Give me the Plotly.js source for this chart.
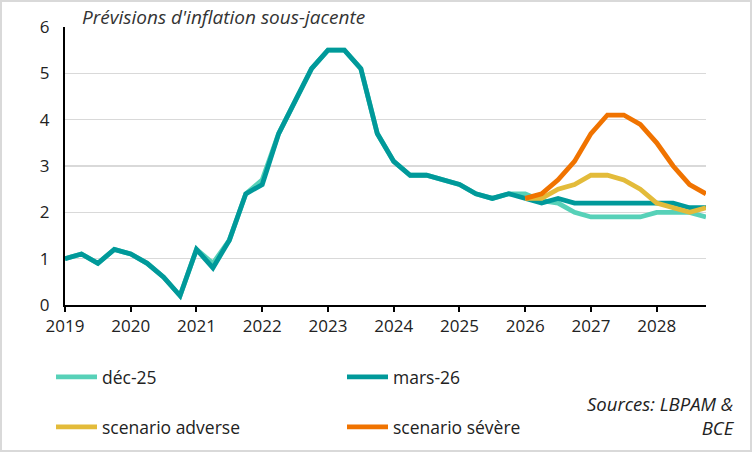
<!DOCTYPE html>
<html><head><meta charset="utf-8">
<script src="https://cdn.plot.ly/plotly-3.0.1.min.js"></script>
<style>html,body{margin:0;padding:0;background:#fff}#wrap{position:relative;width:752px;height:452px}#chart{width:752px;height:452px}#frame{position:absolute;left:0;top:0;width:752px;height:452px;box-sizing:border-box;border:2px solid #d9d9d9;pointer-events:none}</style>
</head><body><div id="wrap"><div id="chart"></div><div id="frame"></div></div>
<script>
// Quarterly dates from 2019 Q1 to 2028 Q4
const quarters = [];
for (let y = 2019; y <= 2028; y++) { for (let q = 0; q < 4; q++) quarters.push(y + q / 4); }

const dec25 = [1.0,1.1,0.9,1.2, 1.1,0.9,0.6,0.2, 1.2,0.9,1.4,2.4, 2.7,3.7,4.4,5.1, 5.5,5.5,5.1,3.7,
               3.1,2.8,2.8,2.7, 2.6,2.4,2.3,2.4, 2.4,2.25,2.2,2.0, 1.9,1.9,1.9,1.9, 2.0,2.0,2.0,1.9];
const mars26 = [1.0,1.1,0.9,1.2, 1.1,0.9,0.6,0.2, 1.2,0.8,1.4,2.4, 2.6,3.7,4.4,5.1, 5.5,5.5,5.1,3.7,
               3.1,2.8,2.8,2.7, 2.6,2.4,2.3,2.4, 2.3,2.2,2.3,2.2, 2.2,2.2,2.2,2.2, 2.2,2.2,2.1,2.1];
const scenQuarters = quarters.slice(28);
const adverse = [2.3,2.3,2.5,2.6, 2.8,2.8,2.7,2.5, 2.2,2.1,2.0,2.1];
const severe  = [2.3,2.4,2.7,3.1, 3.7,4.1,4.1,3.9, 3.5,3.0,2.6,2.4];

const yearTicks = [2019,2020,2021,2022,2023,2024,2025,2026,2027,2028];
const yTicks = [0,1,2,3,4,5,6];

const mk = (x, y, name, color, legend) => ({x, y, name, type:'scatter', mode:'lines',
  line:{color, width:4.8}, legend});

const data = [
  mk(quarters, dec25, 'déc-25', '#57d1b8', 'legend'),
  mk(quarters, mars26, 'mars-26', '#00999a', 'legend'),
  mk(scenQuarters, adverse, 'scenario adverse', '#e3bb3a', 'legend2'),
  mk(scenQuarters, severe, 'scenario sévère', '#f07300', 'legend2')
];

const fam = '"Open Sans", Lato, sans-serif';
const font = {family:fam, size:17, color:'#222'};
const legendBase = {orientation:'h', xref:'container', yref:'container', xanchor:'left', yanchor:'middle',
  entrywidth:235, entrywidthmode:'pixels', font:{family:fam, size:17.5, color:'#222'},
  bgcolor:'rgba(0,0,0,0)', itemwidth:41, traceorder:'normal'};

const layout = {
  width:752, height:452,
  margin:{l:65, r:46, t:27, b:147},
  paper_bgcolor:'#fff', plot_bgcolor:'#fff',
  font,
  title:{text:"Prévisions d'inflation sous-jacente", font:{family:fam, size:19, color:'#333', style:'italic'},
    x:82/752, xref:'container', xanchor:'left', y:1-17/452, yref:'container', yanchor:'middle'},
  xaxis:{range:[2019,2028.75], tickvals:yearTicks, ticktext:yearTicks.map(String), showgrid:false,
    showline:true, linecolor:'#000', linewidth:2, ticks:'outside', ticklen:5, tickwidth:2, tickcolor:'#000',
    zeroline:false, tickfont:font, fixedrange:true},
  yaxis:{range:[0,6], tickvals:yTicks, showgrid:true, gridcolor:'#d9d9d9', gridwidth:1.5,
    showline:true, linecolor:'#000', linewidth:2, ticks:'', zeroline:false, tickfont:font, ticklabelstandoff:10},
  showlegend:true,
  legend:Object.assign({}, legendBase, {x:51/752, y:1-377/452}),
  legend2:Object.assign({}, legendBase, {x:51/752, y:1-427/452}),
  annotations:[{text:'<i>Sources: LBPAM &amp;<br>BCE</i>', xref:'paper', yref:'paper',
    x:(737-65)/641, y:(305-415)/278, xanchor:'right', yanchor:'middle', align:'right', showarrow:false,
    font:{family:fam, size:18.5, color:'#222'}}]
};

Plotly.newPlot('chart', data, layout, {displayModeBar:false, staticPlot:true});
</script></body></html>
